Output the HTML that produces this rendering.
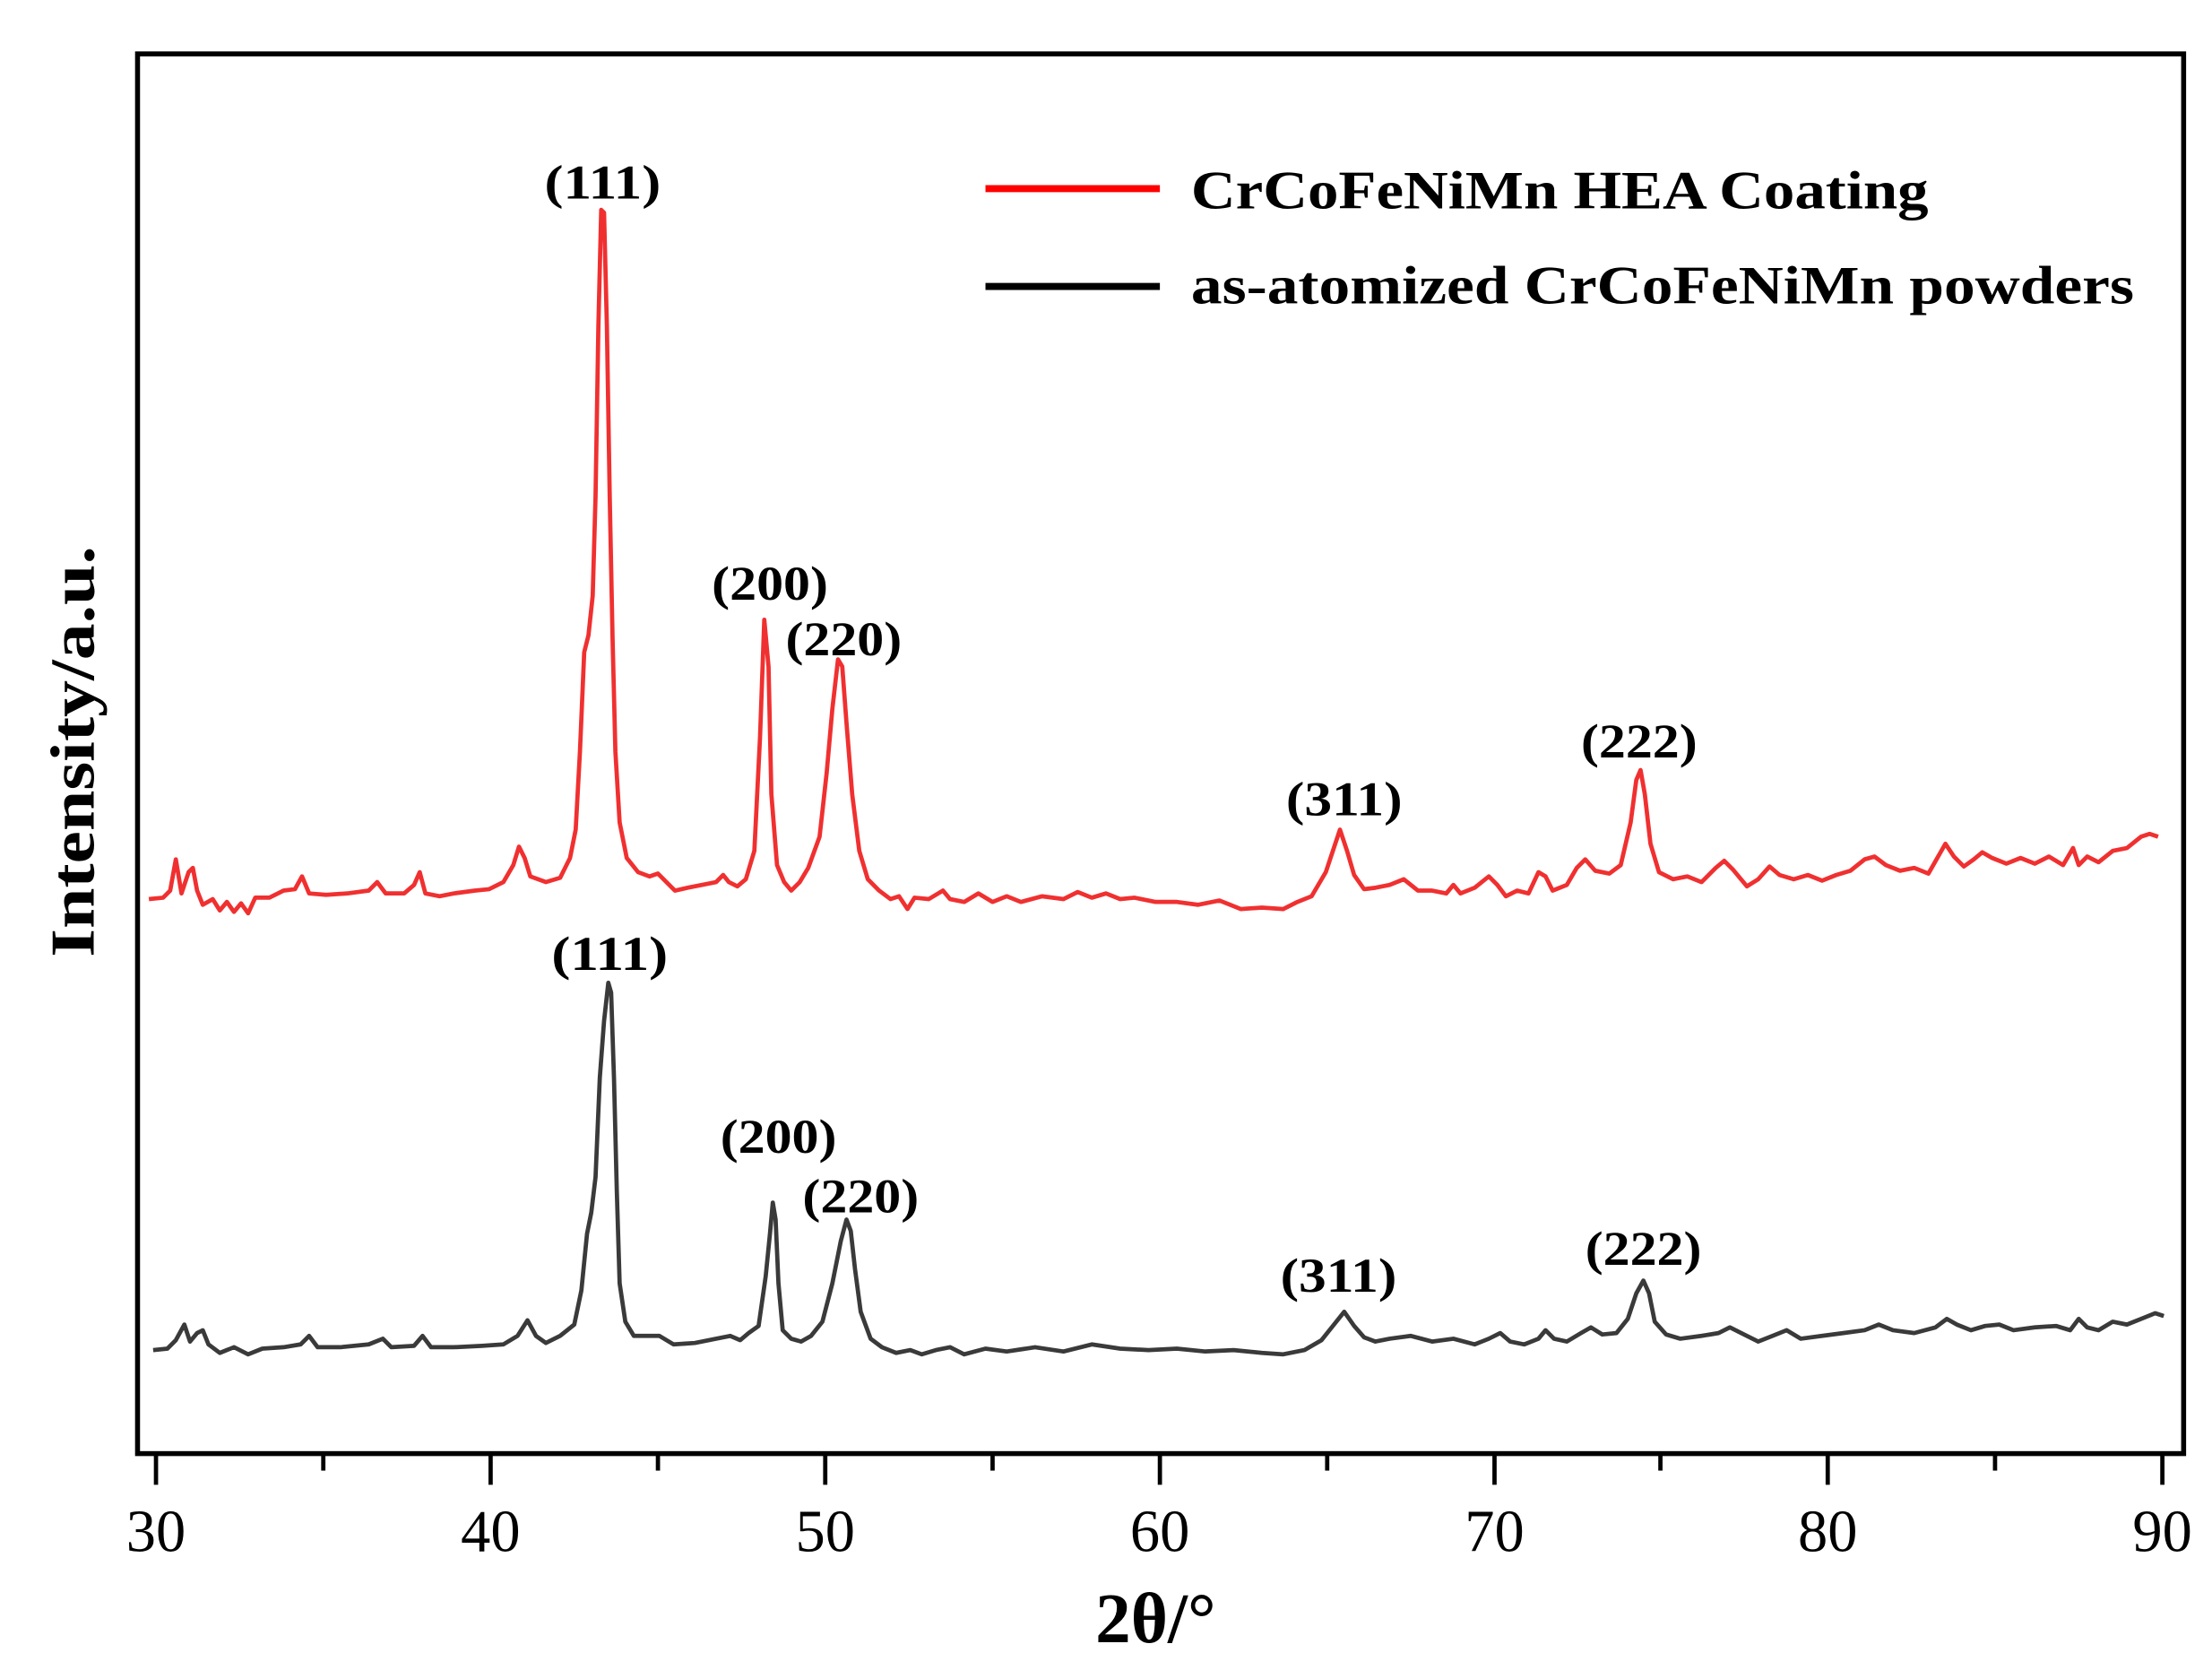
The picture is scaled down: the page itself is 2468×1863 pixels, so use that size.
<!DOCTYPE html>
<html><head><meta charset="utf-8"><style>
html,body{margin:0;padding:0;background:#fff;}
svg{display:block;}
text{font-family:"Liberation Serif",serif;}
</style></head><body>
<svg width="2468" height="1863" viewBox="0 0 1560 1177.6" xmlns="http://www.w3.org/2000/svg">
<rect x="0" y="0" width="1560" height="1177.6" fill="#fff"/>
<polyline fill="none" stroke="#f03030" stroke-width="3" stroke-linejoin="round" points="105,634 115,633 120,628 124,606 128,630 133,615 136,612 139,628 143,638 150,634 155,642 160,636 165,643 170,637 175,644 180,633 190,633 200,628 208,627 213,618 218,630 230,631 245,630 260,628 266,622 272,630 285,630 292,624 296,615 300,630 310,632 320,630 335,628 345,627 355,622 362,610 366,597 370,605 374,618 385,622 395,619 402,605 406,585 409,530 412,460 415,448 418,420 420,350 422,230 424,148 426,150 428,230 430,350 432,450 434,530 437,580 442,605 450,615 458,618 464,616 470,622 476,628 485,626 495,624 505,622 510,617 514,622 520,625 526,620 532,600 536,520 539,437 542,470 544,560 548,610 553,622 558,628 564,622 570,612 578,590 583,545 587,500 591,465 594,470 597,510 601,560 606,600 612,620 620,628 628,634 634,632 640,641 645,633 655,634 665,628 670,634 680,636 690,630 700,636 710,632 720,636 735,632 750,634 760,629 770,633 780,630 790,634 800,633 815,636 830,636 845,638 860,635 875,641 890,640 905,641 915,636 925,632 935,615 940,600 945,585 950,600 955,617 962,627 970,626 980,624 990,620 1000,628 1010,628 1020,630 1025,624 1030,630 1040,626 1050,618 1056,624 1062,632 1070,628 1078,630 1085,615 1090,618 1095,628 1105,624 1112,612 1118,606 1125,614 1135,616 1143,610 1150,580 1154,550 1157,543 1160,560 1164,595 1170,615 1180,620 1190,618 1200,622 1210,612 1216,607 1222,613 1232,625 1240,620 1248,611 1255,617 1265,620 1275,617 1285,621 1295,617 1305,614 1315,606 1322,604 1330,610 1340,614 1350,612 1360,616 1368,602 1372,595 1378,604 1385,611 1392,606 1398,601 1405,605 1415,609 1425,605 1435,609 1445,604 1455,610 1462,598 1466,610 1472,604 1480,608 1490,600 1500,598 1510,590 1516,588 1522,590"/>
<polyline fill="none" stroke="#3a3a3a" stroke-width="3" stroke-linejoin="round" points="108,952 118,951 124,945 130,934 134,946 139,940 143,938 147,948 155,954 165,950 175,955 185,951 200,950 212,948 218,942 224,950 240,950 260,948 270,944 276,950 292,949 298,942 304,950 320,950 340,949 355,948 365,942 372,931 378,942 385,947 395,942 405,934 410,910 414,870 417,855 420,830 423,760 426,720 429,693 431,700 433,760 435,840 437,905 441,932 447,942 455,942 465,942 475,948 490,947 505,944 515,942 522,945 528,940 535,935 540,900 543,870 545,848 547,860 549,905 552,938 558,944 565,946 572,942 580,932 587,905 593,875 597,860 600,868 603,895 607,925 614,944 622,950 632,954 642,952 650,955 660,952 670,950 680,955 695,951 710,953 730,950 750,953 770,948 790,951 810,952 830,951 850,953 870,952 890,954 905,955 920,952 932,945 940,935 948,925 955,935 962,943 970,946 980,944 995,942 1010,946 1025,944 1040,948 1050,944 1058,940 1065,946 1075,948 1085,944 1090,938 1096,944 1105,946 1115,940 1122,936 1130,941 1140,940 1148,930 1154,912 1159,903 1163,912 1167,932 1175,941 1185,944 1200,942 1212,940 1220,936 1228,940 1240,946 1250,942 1260,938 1270,944 1285,942 1300,940 1315,938 1325,934 1335,938 1350,940 1365,936 1373,930 1380,934 1390,938 1400,935 1410,934 1420,938 1435,936 1450,935 1460,938 1466,930 1472,936 1480,938 1490,932 1500,934 1510,930 1520,926 1526,928"/>
<rect x="97" y="38" width="1443" height="987" fill="none" stroke="#000" stroke-width="3.5"/>
<g stroke="#000" stroke-width="3">
<line x1="110" y1="1025" x2="110" y2="1047"/><line x1="228" y1="1025" x2="228" y2="1037"/>
<line x1="346" y1="1025" x2="346" y2="1047"/><line x1="464" y1="1025" x2="464" y2="1037"/>
<line x1="582" y1="1025" x2="582" y2="1047"/><line x1="700" y1="1025" x2="700" y2="1037"/>
<line x1="818" y1="1025" x2="818" y2="1047"/><line x1="936" y1="1025" x2="936" y2="1037"/>
<line x1="1054" y1="1025" x2="1054" y2="1047"/><line x1="1171" y1="1025" x2="1171" y2="1037"/>
<line x1="1289" y1="1025" x2="1289" y2="1047"/><line x1="1407" y1="1025" x2="1407" y2="1037"/>
<line x1="1525" y1="1025" x2="1525" y2="1047"/>
</g>
<g font-size="42" text-anchor="middle" fill="#000">
<text x="110" y="1094">30</text><text x="346" y="1094">40</text><text x="582" y="1094">50</text>
<text x="818" y="1094">60</text><text x="1054" y="1094">70</text><text x="1289" y="1094">80</text><text x="1525" y="1094">90</text>
</g>
<text x="815" y="1158" font-size="50" font-weight="bold" text-anchor="middle">2θ/°</text>
<text transform="translate(66,530) rotate(-90)" font-size="44" font-weight="bold" text-anchor="middle" textLength="290" lengthAdjust="spacingAndGlyphs">Intensity/a.u.</text>
<line x1="695" y1="133" x2="818" y2="133" stroke="#f00" stroke-width="5"/>
<line x1="695" y1="202" x2="818" y2="202" stroke="#000" stroke-width="5"/>
<g font-size="38" font-weight="bold" fill="#000">
<text x="840" y="147" textLength="520" lengthAdjust="spacingAndGlyphs">CrCoFeNiMn HEA Coating</text>
<text x="840" y="214" textLength="665" lengthAdjust="spacingAndGlyphs">as-atomized CrCoFeNiMn powders</text>
</g>
<g font-size="34" font-weight="bold" text-anchor="middle" fill="#000">
<text x="425" y="140" textLength="82" lengthAdjust="spacingAndGlyphs">(111)</text><text x="543" y="423" textLength="82" lengthAdjust="spacingAndGlyphs">(200)</text><text x="595" y="462" textLength="82" lengthAdjust="spacingAndGlyphs">(220)</text>
<text x="948" y="575" textLength="82" lengthAdjust="spacingAndGlyphs">(311)</text><text x="1156" y="534" textLength="82" lengthAdjust="spacingAndGlyphs">(222)</text>
<text x="430" y="684" textLength="82" lengthAdjust="spacingAndGlyphs">(111)</text><text x="549" y="813" textLength="82" lengthAdjust="spacingAndGlyphs">(200)</text><text x="607" y="855" textLength="82" lengthAdjust="spacingAndGlyphs">(220)</text>
<text x="944" y="911" textLength="82" lengthAdjust="spacingAndGlyphs">(311)</text><text x="1159" y="892" textLength="82" lengthAdjust="spacingAndGlyphs">(222)</text>
</g>
</svg>
</body></html>
